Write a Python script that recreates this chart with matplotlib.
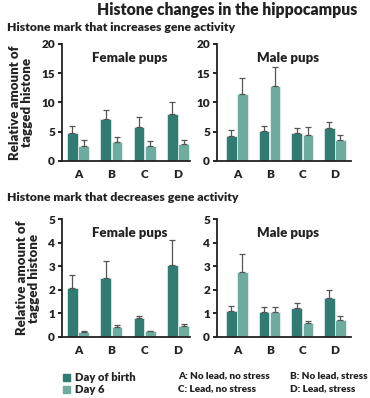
import numpy as np
import matplotlib
matplotlib.use("Agg")
from matplotlib import pyplot as plt
from matplotlib.patches import Rectangle

plt.rcParams['font.family'] = ['Lato', 'DejaVu Sans']

groups = ['A', 'B', 'C', 'D']

# histone mark that increases gene activity
inc_female_birth = [4.85, 7.1, 5.75, 8.0]
inc_female_birth_err = [1.15, 1.7, 1.7, 2.1]
inc_female_day6 = [2.6, 3.25, 2.6, 2.9]
inc_female_day6_err = [1.0, 0.8, 0.8, 0.7]
inc_male_birth = [4.25, 5.2, 4.8, 5.65]
inc_male_birth_err = [1.05, 0.8, 0.9, 0.95]
inc_male_day6 = [11.45, 12.75, 4.45, 3.65]
inc_male_day6_err = [2.7, 3.4, 1.3, 0.75]

# histone mark that decreases gene activity
dec_female_birth = [2.07, 2.52, 0.81, 3.07]
dec_female_birth_err = [0.55, 0.72, 0.08, 1.04]
dec_female_day6 = [0.23, 0.44, 0.25, 0.45]
dec_female_day6_err = [0.04, 0.08, 0.02, 0.12]
dec_male_birth = [1.09, 1.06, 1.22, 1.64]
dec_male_birth_err = [0.23, 0.19, 0.24, 0.36]
dec_male_day6 = [2.75, 1.06, 0.61, 0.74]
dec_male_day6_err = [0.76, 0.23, 0.08, 0.15]

dark = '#317c72'
light = '#6eac9f'
ink = '#222222'

fig = plt.figure(figsize=(3.7, 3.98), dpi=100)


def panel(rect, birth, birth_err, day6, day6_err, ymax, yticks, title, xlim, ylabel):
    ax = fig.add_axes(rect)
    x = np.arange(len(groups))
    w = 0.32
    ax.bar(x - w / 2 - 0.01, birth, w, color=dark, edgecolor='white', linewidth=0.4,
           yerr=[np.zeros(4), birth_err], error_kw=dict(ecolor='#555555', elinewidth=0.9, capsize=2, capthick=0.9))
    ax.bar(x + w / 2 + 0.01, day6, w, color=light, edgecolor='white', linewidth=0.4,
           yerr=[np.zeros(4), day6_err], error_kw=dict(ecolor='#555555', elinewidth=0.9, capsize=2, capthick=0.9))
    ax.set_ylim(0, ymax)
    ax.set_xlim(*xlim)
    ax.set_yticks(yticks)
    ax.set_xticks(x)
    ax.set_xticklabels(groups)
    ax.tick_params(axis='x', length=0, pad=6, labelsize=8.5)
    ax.tick_params(axis='y', length=3, width=1.2, pad=2, labelsize=8.5)
    for lab in ax.get_xticklabels() + ax.get_yticklabels():
        lab.set_fontweight('heavy')
        lab.set_color(ink)
    for s in ['top', 'right']:
        ax.spines[s].set_visible(False)
    for s in ['left', 'bottom']:
        ax.spines[s].set_linewidth(1.3)
        ax.spines[s].set_color(ink)
    ax.text(0.53, 0.88, title, transform=ax.transAxes, ha='center', va='center',
            fontsize=9.5, fontweight='heavy', color=ink)
    if ylabel:
        ax.set_ylabel('Relative amount of\ntagged histone', fontsize=9.5, fontweight='heavy',
                      color=ink, labelpad=6, linespacing=1.0)
    return ax


panel([0.1676, 0.5955, 0.346, 0.294], inc_female_birth, inc_female_birth_err,
      inc_female_day6, inc_female_day6_err, 20, [0, 5, 10, 15, 20], 'Female pups', (-0.48, 3.36), True)
panel([0.5865, 0.5955, 0.362, 0.294], inc_male_birth, inc_male_birth_err,
      inc_male_day6, inc_male_day6_err, 20, [0, 5, 10, 15, 20], 'Male pups', (-0.61, 3.49), False)
panel([0.1676, 0.1533, 0.346, 0.2964], dec_female_birth, dec_female_birth_err,
      dec_female_day6, dec_female_day6_err, 5, [0, 1, 2, 3, 4, 5], 'Female pups', (-0.48, 3.36), True)
panel([0.5865, 0.1533, 0.362, 0.2964], dec_male_birth, dec_male_birth_err,
      dec_male_day6, dec_male_day6_err, 5, [0, 1, 2, 3, 4, 5], 'Male pups', (-0.61, 3.49), False)

fig.text(227 / 370, 0.975, 'Histone changes in the hippocampus', ha='center', va='center',
         fontsize=11.3, fontweight='heavy', color=ink)
fig.text(0.018, 0.932, 'Histone mark that increases gene activity', ha='left', va='center',
         fontsize=8.8, fontweight='heavy', color=ink)
fig.text(0.018, 0.503, 'Histone mark that decreases gene activity', ha='left', va='center',
         fontsize=8.8, fontweight='heavy', color=ink)

# legend
fig.patches.append(Rectangle((63 / 370, 1 - 381 / 398), 7 / 370, 7 / 398, transform=fig.transFigure,
                             color=dark))
fig.patches.append(Rectangle((63 / 370, 1 - 393 / 398), 7 / 370, 7 / 398, transform=fig.transFigure,
                             color=light))
fig.text(75 / 370, 1 - 377.5 / 398, 'Day of birth', ha='left', va='center', fontsize=8,
         fontweight='heavy', color=ink)
fig.text(75 / 370, 1 - 389.5 / 398, 'Day 6', ha='left', va='center', fontsize=8,
         fontweight='heavy', color=ink)
notes = [('A: No lead, no stress', 178, 376), ('C: Lead, no stress', 178, 388.5),
         ('B: No lead, stress', 290, 376), ('D: Lead, stress', 290, 388.5)]
for t, px, py in notes:
    fig.text(px / 370, 1 - py / 398, t, ha='left', va='center', fontsize=7.2,
             fontweight='heavy', color=ink)

fig.savefig('out.png', dpi=100)
